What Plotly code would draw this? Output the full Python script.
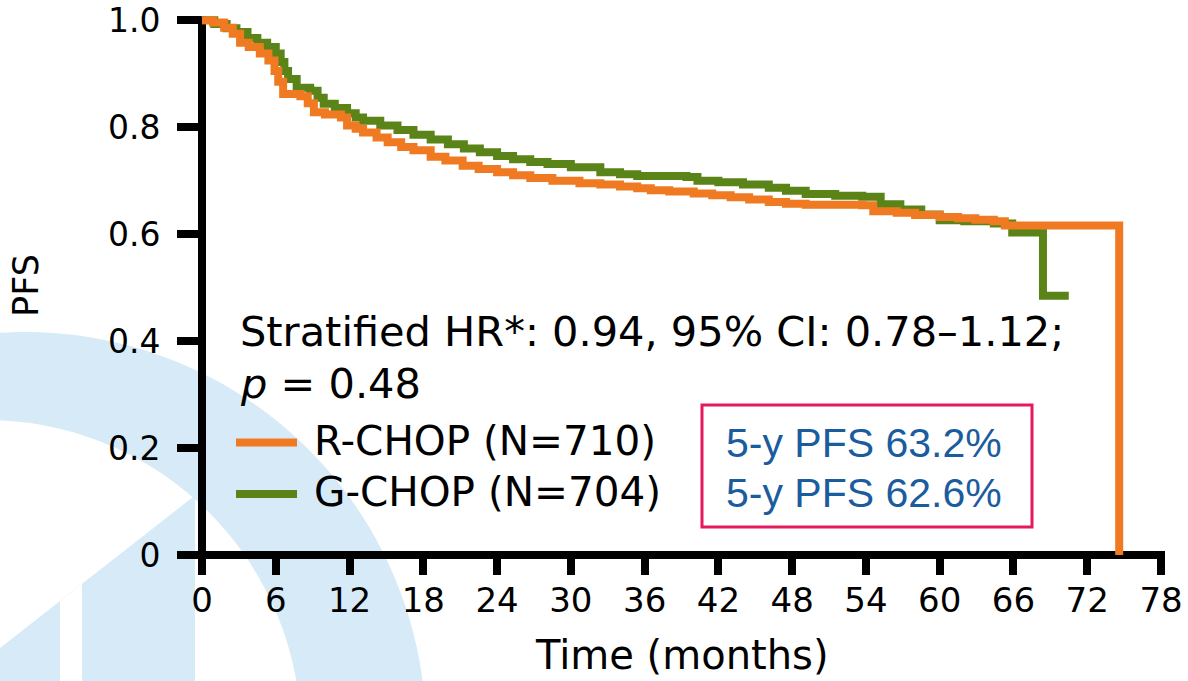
import math
import plotly.graph_objects as go

# Kaplan-Meier progression-free survival per arm (months, probability)
rchop_time = [0, 0.9, 1.8, 2.5, 3.1, 3.8, 4.7, 5.4, 5.9, 6.2, 6.6, 8.0, 8.6, 9.1,
              10.0, 11.3, 11.8, 12.5, 13.1, 14.2, 15.1, 16.2, 17.2, 18.6, 19.8,
              21.2, 22.5, 24.0, 25.3, 26.7, 28.5, 30.7, 32.4, 34.0, 35.4, 36.5,
              38.0, 40.0, 41.5, 43.0, 44.5, 46.1, 47.5, 49.1, 51.0, 53.7, 54.6,
              56.5, 58.0, 60.0, 61.5, 62.9, 64.4, 65.3, 74.6]
rchop_pfs = [1.000, 0.996, 0.986, 0.975, 0.958, 0.950, 0.938, 0.925, 0.905, 0.885,
             0.862, 0.858, 0.845, 0.828, 0.824, 0.818, 0.803, 0.797, 0.790, 0.781,
             0.772, 0.763, 0.757, 0.745, 0.738, 0.728, 0.722, 0.716, 0.710, 0.705,
             0.700, 0.695, 0.693, 0.689, 0.686, 0.682, 0.680, 0.676, 0.673, 0.669,
             0.665, 0.660, 0.657, 0.655, 0.655, 0.654, 0.643, 0.640, 0.636, 0.632,
             0.630, 0.627, 0.624, 0.616, 0.0]

gchop_time = [0, 1.0, 2.0, 2.8, 3.7, 4.5, 5.3, 6.0, 6.4, 6.7, 7.0, 7.7, 8.8, 9.4,
              9.9, 10.8, 11.8, 12.5, 13.1, 14.5, 15.9, 17.2, 18.6, 20.0, 21.3,
              22.6, 24.0, 25.3, 26.7, 28.1, 30.0, 32.4, 34.0, 35.4, 39.4, 40.3,
              42.0, 44.0, 46.1, 47.5, 49.1, 51.5, 53.7, 55.2, 56.8, 58.5, 60.0,
              62.0, 64.4, 65.9, 68.4, 70.5]
gchop_pfs = [1.000, 0.993, 0.985, 0.978, 0.967, 0.958, 0.950, 0.938, 0.922, 0.905,
             0.890, 0.874, 0.868, 0.855, 0.844, 0.836, 0.826, 0.818, 0.812, 0.803,
             0.795, 0.786, 0.777, 0.768, 0.760, 0.753, 0.746, 0.740, 0.735, 0.731,
             0.725, 0.716, 0.712, 0.709, 0.707, 0.700, 0.697, 0.693, 0.687, 0.681,
             0.675, 0.672, 0.670, 0.656, 0.646, 0.637, 0.626, 0.624, 0.620, 0.603,
             0.485, 0.485]

arm_names = ["R-CHOP (N=710)", "G-CHOP (N=704)"]
arm_colors = ["#F07A22", "#5A8417"]
five_year_pfs = [63.2, 62.6]

x_ticks = list(range(0, 79, 6))
y_ticks = [0, 0.2, 0.4, 0.6, 0.8, 1.0]
y_tick_text = ["0", "0.2", "0.4", "0.6", "0.8", "1.0"]

x_title = "Time (months)"
y_title = "PFS"
hr_text = "Stratified HR*: 0.94, 95% CI: 0.78\u20131.12;"
p_text = "<i>p</i> = 0.48"

FONT = "DejaVu Sans"
BOX_BLUE = "#1A5C9E"
BOX_EDGE = "#E6195E"
WATERMARK = "#D6EAF8"

# page geometry (pixels) used to place decorations in paper units
FIG_W, FIG_H = 1188, 681
M_L, M_R, M_T, M_B = 202, 27, 16, 126
PW = FIG_W - M_L - M_R
PH = FIG_H - M_T - M_B


def px(x):
    return (x - M_L) / PW


def py(y):
    return (FIG_H - M_B - y) / PH


def arc(cx, cy, r, a0, a1, n=80):
    pts = []
    for i in range(n + 1):
        a = math.radians(a0 + (a1 - a0) * i / n)
        pts.append((cx + r * math.cos(a), cy + r * math.sin(a)))
    return pts


def path_from(points):
    return "M " + " L ".join(f"{px(x):.5f},{py(y):.5f}" for x, y in points) + " Z"


fig = go.Figure()

fig.add_trace(go.Scatter(
    x=gchop_time, y=gchop_pfs, mode="lines", name=arm_names[1],
    line=dict(color=arm_colors[1], width=8, shape="hv"), showlegend=False,
))
fig.add_trace(go.Scatter(
    x=rchop_time, y=rchop_pfs, mode="lines", name=arm_names[0],
    line=dict(color=arm_colors[0], width=8, shape="hv"), showlegend=False,
))

shapes = []

# light background emblem in the lower-left corner
ring = arc(25, 733, 401, -96, -3) + arc(-14, 735, 315, 0, -92)
shapes.append(dict(type="path", xref="paper", yref="paper", layer="below",
                   path=path_from(ring), fillcolor=WATERMARK, line=dict(width=0)))
wedge = [(193, 497), (0, 648), (-10, 655.8), (-10, 700), (60, 700), (60, 600.7),
         (82, 583.6), (82, 700), (195, 700), (195, 497)]
shapes.append(dict(type="path", xref="paper", yref="paper", layer="below",
                   path=path_from(wedge), fillcolor=WATERMARK, line=dict(width=0)))

# heavy axis lines
shapes.append(dict(type="line", xref="paper", yref="paper", layer="below",
                   x0=px(M_L - 4), x1=px(M_L + PW + 4), y0=0, y1=0,
                   line=dict(color="black", width=8)))
shapes.append(dict(type="line", xref="paper", yref="paper", layer="below",
                   x0=0, x1=0, y0=0, y1=1.0 / 1.008 + 4 / PH,
                   line=dict(color="black", width=8)))

# legend swatches
legend_rows = [442.5, 494]
for color, yrow in zip(arm_colors, legend_rows):
    shapes.append(dict(type="line", xref="paper", yref="paper",
                       x0=px(236), x1=px(297), y0=py(yrow), y1=py(yrow),
                       line=dict(color=color, width=8)))

# 5-year estimate box
shapes.append(dict(type="rect", xref="paper", yref="paper",
                   x0=px(702), x1=px(1032), y0=py(527), y1=py(405),
                   line=dict(color=BOX_EDGE, width=3), fillcolor="white"))

annotations = [
    dict(text=hr_text, x=px(238), y=py(331), xanchor="left", yanchor="middle"),
    dict(text=p_text, x=px(238), y=py(383), xanchor="left", yanchor="middle"),
    dict(text=x_title, x=0.5, y=py(655), xanchor="center", yanchor="middle",
         font=dict(family=FONT, size=40, color="black")),
]
for name, yrow in zip(arm_names, legend_rows):
    annotations.append(dict(text=name, x=px(312), y=py(yrow - 2), xanchor="left",
                            yanchor="middle", font=dict(family=FONT, size=40.5, color="black")))
for val, yrow in zip(five_year_pfs, [443, 493]):
    annotations.append(dict(text=f"5-y PFS {val:.1f}%", x=px(864), y=py(yrow),
                            xanchor="center", yanchor="middle",
                            font=dict(family="Liberation Sans", size=41, color=BOX_BLUE)))
for a in annotations:
    a.update(xref="paper", yref="paper", showarrow=False)
    a.setdefault("font", dict(family=FONT, size=41.5, color="black"))

fig.update_layout(
    width=FIG_W, height=FIG_H,
    margin=dict(l=M_L, r=M_R, t=M_T, b=M_B, autoexpand=False),
    paper_bgcolor="white", plot_bgcolor="rgba(0,0,0,0)",
    shapes=shapes, annotations=annotations,
    font=dict(family=FONT, color="black"),
    xaxis=dict(
        range=[0, 78], tickvals=x_ticks, ticks="outside", ticklen=19, tickwidth=8,
        tickcolor="black", showline=False, showgrid=False, zeroline=False,
        automargin=False,
        tickfont=dict(family=FONT, size=34, color="black"), ticklabelstandoff=-4,
    ),
    yaxis=dict(
        range=[0, 1.008], tickvals=y_ticks, ticktext=y_tick_text, ticks="outside",
        ticklen=24, tickwidth=8, tickcolor="black", showline=False, showgrid=False,
        zeroline=False, automargin=False,
        tickfont=dict(family=FONT, size=33, color="black"),
        ticklabelstandoff=10,
        title=dict(text=y_title, font=dict(family=FONT, size=35, color="black"), standoff=58),
    ),
)

fig.write_html("out.html")
